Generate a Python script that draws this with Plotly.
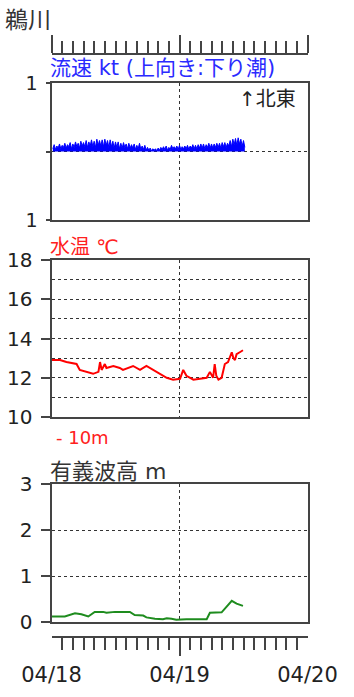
import plotly.graph_objects as go
import pandas as pd

# ---------------- data ----------------
station = "鵜川"
day_labels = ["2024-04-18", "2024-04-19", "2024-04-20"]

# current speed (kt), every 15 min from 04/18 00:15
current_start = "2024-04-18 00:15"
current_kt = [
    0.04, 0.10, 0.03, 0.08, 0.05, 0.11, 0.04, 0.09, 0.06, 0.12, 0.05, 0.10,
    0.07, 0.13, 0.04, 0.11, 0.06, 0.14, 0.07, 0.12, 0.05, 0.15, 0.08, 0.13,
    0.07, 0.16, 0.06, 0.14, 0.08, 0.17, 0.07, 0.15, 0.06, 0.18, 0.09, 0.16,
    0.08, 0.17, 0.07, 0.18, 0.09, 0.16, 0.06, 0.17, 0.07, 0.15, 0.05, 0.14,
    0.06, 0.14, 0.04, 0.12, 0.05, 0.13, 0.06, 0.11, 0.04, 0.12, 0.05, 0.10,
    0.05, 0.11, 0.03, 0.09, 0.04, 0.12, 0.03, 0.08, 0.03, 0.09, 0.02, 0.06,
    0.02, 0.05, 0.01, 0.04, 0.02, 0.04, 0.01, 0.05, 0.02, 0.06, 0.03, 0.07,
    0.03, 0.08, 0.02, 0.06, 0.03, 0.09, 0.04, 0.07, 0.04, 0.08, 0.03, 0.09,
    0.03, 0.07, 0.04, 0.08, 0.04, 0.09, 0.03, 0.08, 0.05, 0.10, 0.04, 0.09,
    0.04, 0.10, 0.05, 0.11, 0.05, 0.11, 0.04, 0.10, 0.06, 0.12, 0.05, 0.11,
    0.05, 0.11, 0.06, 0.12, 0.06, 0.12, 0.05, 0.13, 0.07, 0.13, 0.06, 0.12,
    0.08, 0.16, 0.07, 0.18, 0.10, 0.19, 0.09, 0.20, 0.11, 0.18, 0.08, 0.16,
    0.06,
]

# water temperature at -10 m: hours since 04/18 00:00, degC
temp_hours = [0, 1.6, 2.8, 4.7, 5.3, 6.6, 7.8, 8.8, 9.1, 9.4, 10.0, 10.3, 11.6,
              12.8, 13.4, 15.3, 15.9, 16.6, 17.8, 18.4, 19.1, 20.3, 21.6, 22.8,
              24.1, 24.7, 25.3, 26.6, 27.8, 29.1, 29.7, 30.3, 30.6, 30.9, 31.3,
              31.9, 32.5, 33.1, 33.8, 34.1, 34.4, 34.7, 35.3, 35.9]
temp_c = [12.9, 12.9, 12.8, 12.7, 12.4, 12.3, 12.2, 12.3, 12.8, 12.4, 12.7, 12.5,
          12.6, 12.5, 12.4, 12.6, 12.5, 12.4, 12.6, 12.5, 12.4, 12.2, 12.0, 11.9,
          11.95, 12.4, 12.1, 11.9, 11.95, 12.0, 12.3, 12.0, 12.7, 12.1, 11.9,
          12.0, 12.7, 12.8, 13.3, 13.0, 12.9, 13.2, 13.3, 13.4]

# significant wave height (m)
wave_hours = [0, 2.5, 4.4, 5.6, 6.9, 8.1, 9.7, 10.3, 11.9, 14.7, 15.6, 17.2,
              17.8, 19.4, 20.9, 21.6, 22.5, 23.4, 25.3, 29.1, 29.7, 31.9,
              33.8, 34.7, 35.9]
wave_m = [0.12, 0.12, 0.19, 0.17, 0.12, 0.22, 0.22, 0.20, 0.22, 0.22, 0.15,
          0.14, 0.10, 0.07, 0.06, 0.08, 0.07, 0.05, 0.06, 0.06, 0.20, 0.21,
          0.46, 0.40, 0.35]

# ---------------- figure ----------------
W, H = 354, 697
t0 = pd.Timestamp(day_labels[0])
t2 = pd.Timestamp(day_labels[-1])
cur_t = pd.date_range(current_start, periods=len(current_kt), freq="15min")
temp_t = [t0 + pd.Timedelta(hours=h) for h in temp_hours]
wave_t = [t0 + pd.Timedelta(hours=h) for h in wave_hours]


def fy(py):
    return 1 - py / H


XD = [51.5 / W, 307.5 / W]
FONT = "DejaVu Sans, Noto Sans CJK JP"
LINE = "#444444"
GRID = "#333333"
DASH = "3px,3px"

fig = go.Figure()
fig.add_trace(go.Scatter(x=cur_t, y=current_kt, mode="lines", fill="tozeroy",
                         line=dict(color="#0000ff", width=1), fillcolor="#0000ff",
                         xaxis="x", yaxis="y", hoverinfo="skip"))
fig.add_trace(go.Scatter(x=temp_t, y=temp_c, mode="lines",
                         line=dict(color="#ff0000", width=2),
                         xaxis="x2", yaxis="y2", hoverinfo="skip"))
fig.add_trace(go.Scatter(x=wave_t, y=wave_m, mode="lines",
                         line=dict(color="#1e8c1e", width=2),
                         xaxis="x3", yaxis="y3", hoverinfo="skip"))
# invisible anchors so the tick rulers get drawn
for xa, ya in (("x4", "y4"), ("x5", "y5"), ("x6", "y5")):
    fig.add_trace(go.Scatter(x=[t0], y=[0.5], mode="markers", marker=dict(opacity=0),
                             xaxis=xa, yaxis=ya, hoverinfo="skip"))


def panel_x(anchor):
    return dict(domain=XD, anchor=anchor, range=[t0, t2], type="date",
                showline=True, mirror=True, linecolor=LINE, linewidth=2,
                showgrid=True, gridcolor=GRID, gridwidth=1, griddash=DASH,
                dtick=86400000, tick0=t0, ticks="", showticklabels=False,
                zeroline=False, automargin=False)


def panel_y(anchor, dom, rng, **kw):
    d = dict(domain=dom, anchor=anchor, range=rng, showline=True, mirror=True,
             linecolor=LINE, linewidth=2, showgrid=True, gridcolor=GRID,
             gridwidth=1, griddash=DASH, zeroline=False, ticks="outside",
             ticklen=9, tickcolor=LINE, tickwidth=1.5,
             tickfont=dict(family=FONT, size=20, color="#222222"),
             ticklabelstandoff=4, automargin=False)
    d.update(kw)
    return d


def ruler_x(anchor, side, ticks, **kw):
    d = dict(domain=XD, anchor=anchor, side=side, range=[t0, t2], type="date",
             showline=True, linecolor=LINE, linewidth=2, showgrid=False,
             zeroline=False, ticks=ticks, ticklen=18, tickwidth=1.5,
             tickcolor=LINE, dtick=86400000, tick0=t0, automargin=False,
             showticklabels=False,
             minor=dict(ticks=ticks, ticklen=12, tickwidth=1.5, tickcolor=LINE,
                        dtick=2 * 3600000, showgrid=False))
    d.update(kw)
    return d


fig.update_layout(
    width=W, height=H, margin=dict(l=0, r=0, t=0, b=0, autoexpand=False),
    paper_bgcolor="white", plot_bgcolor="rgba(0,0,0,0)", showlegend=False,
    font=dict(family=FONT, color="#222222"),
    xaxis=panel_x("y"),
    yaxis=panel_y("x", [fy(220), fy(83)], [-1, 1], tickvals=[-1, 0, 1],
                  ticktext=["1", "", "1"], ticklen=4,
                  tickfont=dict(family=FONT, size=19, color="#222222")),
    xaxis2=panel_x("y2"),
    yaxis2=panel_y("x2", [fy(417), fy(260)], [10, 18], dtick=2,
                   minor=dict(dtick=1, showgrid=True, gridcolor=GRID,
                              griddash=DASH, gridwidth=1, ticks="")),
    xaxis3=panel_x("y3"),
    yaxis3=panel_y("x3", [fy(622), fy(484)], [0, 3], dtick=1),
    # top ruler (line at bottom, ticks pointing up)
    xaxis4=ruler_x("y4", "top", "outside"),
    yaxis4=dict(domain=[fy(56), fy(55)], anchor="x4", visible=False, range=[0, 1],
                automargin=False),
    # date labels below the bottom ruler band
    xaxis5=dict(domain=XD, anchor="y5", side="bottom", range=[t0, t2], type="date",
                showline=False, showgrid=False, zeroline=False, ticks="",
                dtick=86400000, tick0=t0, automargin=False, showticklabels=True,
                tickformat="%m/%d",
                tickfont=dict(family=FONT, size=21, color="#222222"),
                ticklabelstandoff=2),
    yaxis5=dict(domain=[fy(658), fy(638)], anchor="x5", visible=False, range=[0, 1],
                automargin=False),
    # bottom ruler (line at top of the band, ticks pointing down)
    xaxis6=ruler_x("y5", "top", "inside", overlaying="x5"),
)

ann = [
    (station, 3, 20, 23, "#333333", "left"),
    ("流速 kt (上向き:下り潮)", 48, 68, 21, "#2a2aff", "left"),
    ("↑北東", 298, 99, 20, "#222222", "right"),
    ("水温 ℃", 48, 247, 20, "#ff2020", "left"),
    ("- 10m", 54, 437, 18, "#ff2020", "left"),
    ("有義波高 m", 48, 471, 22, "#333333", "left"),
]
for text, px, py, size, color, xa in ann:
    fig.add_annotation(text=text, x=px / W, y=fy(py), xref="paper", yref="paper",
                       xanchor=xa, yanchor="middle", showarrow=False,
                       font=dict(family=FONT, size=size, color=color))

fig.write_html("out.html")
